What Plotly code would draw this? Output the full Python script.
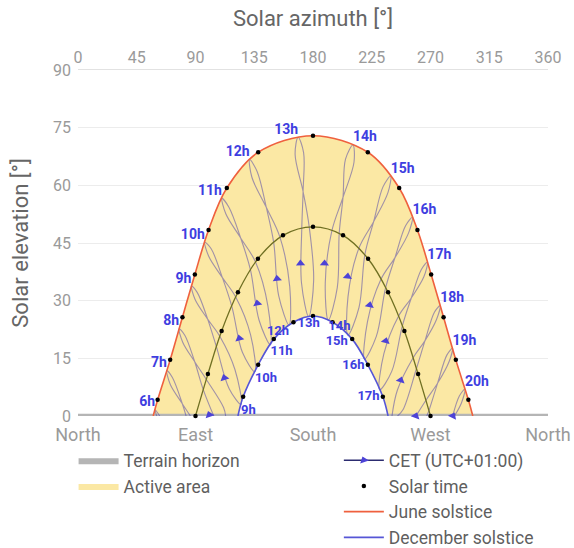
import plotly.graph_objects as go

# Sun positions (azimuth, elevation in degrees) at whole solar hours
june_rise_set_az = [57.6, 302.4]
june_dot_az = [61.0, 70.6, 80.0, 89.5, 100.0, 114.0, 138.0, 180.0, 222.0, 246.0, 260.0, 270.5, 280.0, 289.4, 299.0]
june_dot_el = [4.2, 14.6, 25.7, 36.8, 48.4, 59.3, 68.6, 72.9, 68.6, 59.3, 48.4, 36.8, 25.7, 14.6, 4.2]

equinox_dot_az = [90.0, 99.5, 110.0, 122.5, 137.8, 157.0, 180.0, 203.0, 222.2, 237.5, 250.0, 260.5, 270.0]
equinox_dot_el = [0.0, 10.9, 22.1, 32.2, 40.9, 47.0, 49.2, 47.0, 40.9, 32.2, 22.1, 10.9, 0.0]

december_rise_set_az = [122.5, 237.5]
december_dot_az = [126.5, 138.0, 150.0, 165.0, 180.0, 195.0, 210.0, 222.0, 233.5]
december_dot_el = [5.0, 13.3, 20.0, 24.4, 26.0, 24.4, 20.0, 13.3, 5.0]

# Terrain horizon profile
horizon_az = [0, 90, 180, 270, 360]
horizon_el = [0.6, 0.6, 0.6, 0.6, 0.6]

# Clock-time (CET) hour loops: December -> June -> December
cet_hours = [6, 7, 8, 9, 10, 11, 12, 13, 14, 15, 16, 17, 18, 19, 20]
cet_path_az = [
    [62.6, 59.0, 60.3],
    [82.8, 79.9, 72.3, 68.0, 70.7, 79.9, 86.1],
    [104.0, 96.0, 89.4, 81.8, 77.4, 80.2, 89.4, 98.3, 111.5, 113.1],
    [124.9, 115.8, 106.1, 99.3, 91.4, 86.9, 89.7, 99.3, 108.7, 120.2, 124.9],
    [135.5, 126.0, 117.9, 110.6, 102.0, 97.1, 100.3, 110.6, 120.9, 132.2, 135.5],
    [147.4, 138.7, 132.1, 124.6, 115.6, 110.2, 113.2, 124.6, 135.9, 145.5, 147.4],
    [161.7, 153.7, 149.9, 144.2, 137.2, 131.5, 133.2, 144.2, 154.6, 162.2, 161.7],
    [176.7, 171.2, 171.4, 172.4, 172.8, 168.6, 166.3, 172.4, 177.1, 180.5, 176.7],
    [191.7, 189.4, 194.4, 203.0, 211.4, 210.6, 204.9, 203.0, 200.1, 198.6, 191.7],
    [206.7, 206.8, 215.1, 226.5, 237.4, 239.5, 233.6, 226.5, 219.8, 215.2, 206.7],
    [219.4, 221.7, 231.8, 242.8, 253.3, 256.2, 250.9, 242.8, 235.6, 228.5, 219.4],
    [231.0, 234.3, 245.4, 255.3, 264.9, 267.6, 263.0, 255.3, 248.4, 240.3, 231.0],
    [240.5, 244.6, 256.6, 265.8, 274.6, 277.4, 273.0, 265.8, 259.2, 248.9, 244.7],
    [258.9, 266.5, 275.4, 284.2, 286.8, 282.6, 275.4, 268.8, 267.1],
    [288.3, 293.7, 296.4, 292.1, 287.0],
]
cet_path_el = [
    [0.0, 1.7, 0.0],
    [0.0, 3.2, 10.0, 11.8, 8.2, 3.2, 0.0],
    [0.0, 6.8, 14.1, 21.0, 22.7, 19.2, 14.1, 9.5, 2.2, 0.0],
    [3.0, 7.1, 17.9, 25.2, 32.1, 33.8, 30.3, 25.2, 20.7, 12.1, 3.0],
    [11.5, 16.5, 28.4, 36.0, 43.5, 45.2, 41.4, 36.0, 30.9, 21.1, 11.5],
    [18.5, 24.9, 38.0, 46.3, 54.3, 56.6, 52.6, 46.3, 40.1, 28.5, 18.5],
    [23.6, 31.3, 45.1, 54.3, 63.6, 66.7, 62.1, 54.3, 46.6, 33.6, 23.6],
    [25.8, 34.6, 48.7, 58.4, 68.5, 72.5, 68.0, 58.4, 49.2, 35.3, 25.8],
    [24.9, 34.6, 48.1, 56.9, 66.0, 70.5, 66.8, 56.9, 47.6, 33.4, 24.9],
    [21.0, 31.0, 43.6, 50.6, 58.1, 62.4, 59.6, 50.6, 42.1, 28.2, 21.0],
    [14.8, 24.5, 35.4, 41.2, 47.7, 51.7, 49.5, 41.2, 33.3, 20.7, 14.8],
    [6.8, 16.2, 25.9, 30.7, 36.2, 40.0, 38.1, 30.7, 23.4, 11.6, 6.8],
    [0.0, 6.7, 15.1, 19.6, 25.1, 28.7, 27.0, 19.6, 12.3, 1.6, 0.0],
    [0.0, 4.1, 8.5, 14.1, 17.6, 15.9, 8.5, 1.4, 0.0],
    [0.0, 3.4, 7.0, 5.2, 0.0],
]

# Direction arrows on the rising (December -> June) branches
arrow_az = [100.6, 112.1, 123.6, 137.4, 152.5, 170.4, 188.8, 206.5, 223.4, 235.7, 247.2, 258.7, 287.1]
arrow_el = [0.3, 9.9, 20.2, 29.3, 35.7, 39.7, 39.7, 36.3, 28.8, 19.5, 9.3, 0.0, 0.0]

# ---- derived curves ----
june_az = [june_rise_set_az[0]] + june_dot_az + [june_rise_set_az[1]]
june_el = [0.0] + june_dot_el + [0.0]
dec_az = [december_rise_set_az[0]] + december_dot_az + [december_rise_set_az[1]]
dec_el = [0.0] + december_dot_el + [0.0]

FONT = "Roboto"
LABEL_BLUE = "#3e3ee0"
JUNE_COLOR = "#ef603e"
DEC_COLOR = "#5656d6"

fig = go.Figure()

# active area between the solstice paths
fig.add_trace(go.Scatter(x=dec_az, y=dec_el, mode="lines", line=dict(width=0, shape="spline"),
                         showlegend=False, hoverinfo="skip"))
fig.add_trace(go.Scatter(x=june_az, y=june_el, mode="lines", line=dict(width=0, shape="spline"),
                         fill="tonexty", fillcolor="#fbe8a4", name="Active area",
                         legend="legend", legendrank=2, hoverinfo="skip"))

# terrain horizon
fig.add_trace(go.Scatter(x=horizon_az, y=horizon_el, mode="lines", line=dict(width=0),
                         fill="tozeroy", fillcolor="#b5b5b5", name="Terrain horizon",
                         legend="legend", legendrank=1, hoverinfo="skip"))

# CET hour loops
for az, el in zip(cet_path_az, cet_path_el):
    fig.add_trace(go.Scatter(x=az, y=el, mode="lines",
                             line=dict(color="rgba(72,60,170,0.5)", width=1.1, shape="spline"),
                             showlegend=False, hoverinfo="skip"))

# equinox path
fig.add_trace(go.Scatter(x=equinox_dot_az, y=equinox_dot_el, mode="lines",
                         line=dict(color="#6f6f22", width=1.3, shape="spline"),
                         showlegend=False, hoverinfo="skip"))

# solstice paths
fig.add_trace(go.Scatter(x=june_az, y=june_el, mode="lines",
                         line=dict(color=JUNE_COLOR, width=1.6, shape="spline"),
                         name="June solstice", legend="legend2", legendrank=3))
fig.add_trace(go.Scatter(x=dec_az, y=dec_el, mode="lines",
                         line=dict(color=DEC_COLOR, width=1.6, shape="spline"),
                         name="December solstice", legend="legend2", legendrank=4))

# arrows (isolated points, so no connecting segments are drawn);
# the heads lean with the loops: west of south to the right, east of south to the left
ax, ay, angles = [], [], []
for a, e in zip(arrow_az, arrow_el):
    ax += [a, None]
    ay += [e, None]
    tilt = -90 - 0.25 * (180 - a)
    angles += [tilt, tilt]
fig.add_trace(go.Scatter(x=ax, y=ay, mode="lines+markers", connectgaps=False,
                         line=dict(color="#2c2c70", width=1.5),
                         marker=dict(symbol="triangle-right", size=8, color="#4d43d6", angle=angles),
                         cliponaxis=False, name="CET (UTC+01:00)",
                         legend="legend2", legendrank=1))

# solar-time dots
fig.add_trace(go.Scatter(x=june_dot_az + equinox_dot_az + december_dot_az,
                         y=june_dot_el + equinox_dot_el + december_dot_el,
                         mode="markers", marker=dict(color="black", size=4.5),
                         cliponaxis=False, name="Solar time",
                         legend="legend2", legendrank=2))

# hour labels at the June ends of the loops
jl_az, jl_el, jl_txt, jl_pos = [], [], [], []
for h, az, el in zip(cet_hours, cet_path_az, cet_path_el):
    i = el.index(max(el))
    jl_az.append(az[i]); jl_el.append(el[i]); jl_txt.append(f"{h}h")
    jl_pos.append("top left" if h <= 13 else "top right")
fig.add_trace(go.Scatter(x=jl_az, y=jl_el, mode="text", text=jl_txt, textposition=jl_pos,
                         textfont=dict(family=FONT, size=14, color=LABEL_BLUE, weight="bold"),
                         showlegend=False, hoverinfo="skip", cliponaxis=False))

# hour labels at the December ends
dec_label_pos = {9: "bottom right", 10: "bottom right", 11: "bottom right",
                 12: "bottom left", 13: "bottom center", 14: "bottom right",
                 15: "bottom left", 16: "bottom left", 17: "bottom left"}
dl_az, dl_el, dl_txt, dl_pos = [], [], [], []
for h, az, el in zip(cet_hours, cet_path_az, cet_path_el):
    if h in dec_label_pos:
        dl_az.append(az[0]); dl_el.append(el[0]); dl_txt.append(f"{h}h")
        dl_pos.append(dec_label_pos[h])
fig.add_trace(go.Scatter(x=dl_az, y=dl_el, mode="text", text=dl_txt, textposition=dl_pos,
                         textfont=dict(family=FONT, size=13, color=LABEL_BLUE, weight="bold"),
                         showlegend=False, hoverinfo="skip", cliponaxis=False))

# carrier for the top azimuth axis
fig.add_trace(go.Scatter(x=horizon_az, y=horizon_el, xaxis="x2", mode="none",
                         showlegend=False, hoverinfo="skip"))

top_tick_font = dict(family=FONT, size=16, color="#9a9a9a")
bottom_tick_font = dict(family=FONT, size=18, color="#9a9a9a")
title_font = dict(family=FONT, size=22, color="#666666")
legend_font = dict(family=FONT, size=17.5, color="#5f5f5f")

fig.update_layout(
    width=574, height=548,
    margin=dict(l=78, r=26, t=70, b=132, autoexpand=False),
    paper_bgcolor="white", plot_bgcolor="white",
    font=dict(family=FONT, color="#666666"),
    xaxis=dict(range=[0, 360], tickvals=[0, 90, 180, 270, 360],
               ticktext=["North", "East", "South", "West", "North"],
               showgrid=False, zeroline=False, showline=False, ticks="",
               tickfont=bottom_tick_font, ticklabelstandoff=6),
    xaxis2=dict(range=[0, 360], overlaying="x", side="top", anchor="y",
                tickvals=[0, 45, 90, 135, 180, 225, 270, 315, 360],
                showgrid=False, zeroline=False, showline=True, linecolor="#e2e2e2",
                ticks="", tickfont=top_tick_font,
                title=dict(text="Solar azimuth [°]", font=title_font, standoff=14)),
    yaxis=dict(range=[0, 90], tickvals=[0, 15, 30, 45, 60, 75, 90],
               showgrid=True, gridcolor="#ececec", zeroline=False, showline=False,
               ticks="", tickfont=top_tick_font, ticklabelstandoff=6,
               title=dict(text="Solar elevation [°]", font=title_font, standoff=18)),
    legend=dict(x=-0.0094, y=-0.076, xanchor="left", yanchor="top", traceorder="normal",
                font=legend_font, itemwidth=40, bgcolor="rgba(0,0,0,0)"),
    legend2=dict(x=0.555, y=-0.076, xanchor="left", yanchor="top", traceorder="normal",
                 font=legend_font, itemwidth=40, bgcolor="rgba(0,0,0,0)"),
)

fig.write_html("out.html")
